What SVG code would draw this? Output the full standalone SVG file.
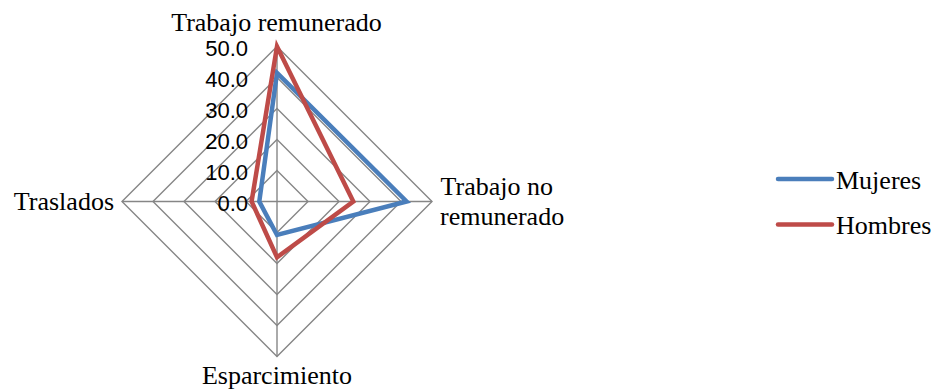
<svg xmlns="http://www.w3.org/2000/svg" width="934" height="391" viewBox="0 0 934 391">
<style>
.grid{fill:none;stroke:#868686;stroke-width:1.4}
.ser{fill:none;stroke-width:4.5;stroke-linejoin:miter}
.lab{font-family:"Liberation Serif","Times New Roman",serif;font-size:26px;fill:#000}
.tick{font-family:"Liberation Sans",Arial,sans-serif;font-size:22px;fill:#000;text-anchor:end}
</style>
<rect width="934" height="391" fill="#fff"/>
<g id="grid">
<polygon class="grid" points="277,170.5 308,201.5 277,232.5 246,201.5"/>
<polygon class="grid" points="277,139.5 339,201.5 277,263.5 215,201.5"/>
<polygon class="grid" points="277,108.5 370,201.5 277,294.5 184,201.5"/>
<polygon class="grid" points="277,77.5 401,201.5 277,325.5 153,201.5"/>
<polygon class="grid" points="277,46.5 432,201.5 277,356.5 122,201.5"/>
<line class="grid" x1="277" y1="46.5" x2="277" y2="356.5"/>
<line class="grid" x1="122" y1="201.5" x2="432" y2="201.5"/>
</g>
<g id="ticks">
<text class="tick" x="248" y="56">50.0</text>
<text class="tick" x="248" y="87">40.0</text>
<text class="tick" x="248" y="118">30.0</text>
<text class="tick" x="248" y="149">20.0</text>
<text class="tick" x="248" y="180">10.0</text>
<text class="tick" x="248" y="211">0.0</text>
</g>
<g id="connectors">
<polygon id="mujeres" class="ser" stroke="#4A7EBB" points="277,72.9 406.6,201.5 277,235 259.3,201.5"/>
<polygon id="hombres" class="ser" stroke="#BE4B48" points="277,46.5 353.3,201.5 277,257.3 251.6,201.5"/>
</g>
<g id="axis-labels">
<text class="lab" x="276.5" y="31" text-anchor="middle">Trabajo remunerado</text>
<text class="lab" x="114" y="210" text-anchor="end">Traslados</text>
<text class="lab" x="440.5" y="195">Trabajo no</text>
<text class="lab" x="440" y="225">remunerado</text>
<text class="lab" x="277" y="384" text-anchor="middle">Esparcimiento</text>
</g>
<g id="legend">
<line x1="778" y1="179" x2="832" y2="179" stroke="#4A7EBB" stroke-width="4.5" stroke-linecap="round"/>
<text class="lab" x="836" y="189">Mujeres</text>
<line x1="778" y1="224.5" x2="832" y2="224.5" stroke="#BE4B48" stroke-width="4.5" stroke-linecap="round"/>
<text class="lab" x="836" y="234">Hombres</text>
</g>
</svg>
